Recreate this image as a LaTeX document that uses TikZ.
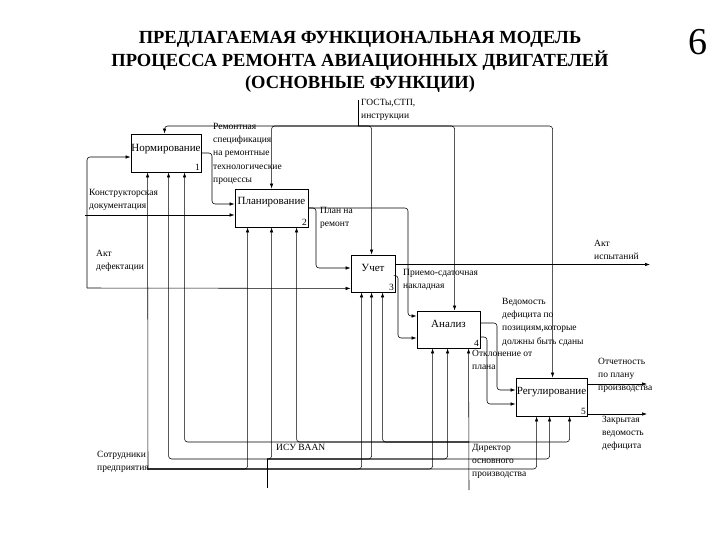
\documentclass[tikz,border=0pt]{standalone}
\usepackage{fontspec}
\setmainfont{Liberation Serif}
\usetikzlibrary{arrows.meta,calc}
\begin{document}
\begin{tikzpicture}[x=1pt,y=-1pt,
  box/.style={draw,line width=0.9pt,inner sep=0,fill=white},
  bname/.style={font=\fontsize{11}{12}\selectfont,inner sep=0},
  bnum/.style={font=\fontsize{9.5}{10}\selectfont,inner sep=1.5pt,anchor=south east},
  ln/.style={line width=0.55pt,rounded corners=3pt},
  arr/.style={ln,-{Latex[length=5pt,width=3.5pt]}},
  lbl/.style={font=\fontsize{9.5}{13.2}\selectfont,align=left,inner sep=0,anchor=north west},
  ttl/.style={font=\bfseries\fontsize{18.5}{22.5}\selectfont,align=center,inner sep=0}]
\useasboundingbox (0,0) rectangle (720,540);
% title
\node[ttl] (title) at (360,62) {ПРЕДЛАГАЕМАЯ ФУНКЦИОНАЛЬНАЯ МОДЕЛЬ\\ПРОЦЕССА РЕМОНТА АВИАЦИОННЫХ ДВИГАТЕЛЕЙ\\(ОСНОВНЫЕ ФУНКЦИИ)};
\node[font=\fontsize{38}{38}\selectfont,inner sep=0] (pg) at (698,42) {6};
% boxes
\node[box,minimum width=70,minimum height=38] (b1) at (166,153) {};
\node[box,minimum width=73,minimum height=38] (b2) at (271.5,208) {};
\node[box,minimum width=44,minimum height=37] (b3) at (373,273.5) {};
\node[box,minimum width=63,minimum height=37] (b4) at (448.5,329.5) {};
\node[box,minimum width=71,minimum height=38] (b5) at (551.5,397) {};
\node[bname] (n1) at ($(b1.center)+(0,-4)$) {Нормирование};
\node[bname] (n2) at ($(b2.center)+(0,-6)$) {Планирование};
\node[bname] (n3) at ($(b3.center)+(0,-6)$) {Учет};
\node[bname] (n4) at ($(b4.center)+(0,-6)$) {Анализ};
\node[bname] (n5) at ($(b5.center)+(0,-5)$) {Регулирование};
\node[bnum] (k1) at (b1.south east) {1};
\node[bnum] (k2) at (b2.south east) {2};
\node[bnum] (k3) at (b3.south east) {3};
\node[bnum] (k4) at (b4.south east) {4};
\node[bnum] (k5) at (b5.south east) {5};
% controls
\coordinate (g) at (358,100);
\coordinate (gj) at (358,126);
\draw[ln] (g) -- (gj);
\draw[arr] (gj) -| ($(b1.north west)+(34,0)$);
\draw[arr] (gj) -| ($(b2.north west)+(37,0)$);
\draw[arr] (gj) -| ($(b3.north west)+(21,0)$);
\draw[arr] (gj) -| ($(b4.north west)+(38,0)$);
\draw[arr] (gj) -| ($(b5.north west)+(37,0)$);
% inputs
\coordinate (ad) at (87,288);
\draw[arr] (ad) -- ($(b3.south west)+(0,-4)$);
\draw[arr] (ad) |- ($(b1.west)+(0,4)$);
\coordinate (kd) at (85,215);
\draw[arr] (kd) -- ($(b2.west)+(0,7)$);
% outputs
\draw[arr] (b1.east) -- (212,153) |- ($(b2.west)+(0,-4)$);
\draw[arr] (b2.east) -- (316,208) |- ($(b3.west)+(0,-5.5)$);
\draw[arr] (b2.east) -- (408,208) |- ($(b4.west)+(0,-13.5)$);
\coordinate (ai) at (650,264.5);
\draw[arr] ($(b3.east)+(0,-9)$) -- (ai);
\draw[arr] ($(b3.east)+(0,2)$) -- (398,275.5) |- ($(b4.west)+(0,8.5)$);
\draw[arr] ($(b4.east)+(0,-6.5)$) -- (497,323) |- ($(b5.west)+(0,-7)$);
\draw[arr] ($(b4.east)+(0,7.5)$) -- (487,337) |- ($(b5.west)+(0,7)$);
\coordinate (o1) at (647,384);
\coordinate (o2) at (647,414);
\draw[arr] ($(b5.east)+(0,-13)$) -- (o1);
\draw[arr] ($(b5.east)+(0,17)$) -- (o2);
% mechanisms: staff
\coordinate (st) at (148,469);
\draw[arr] (st) -- ($(b1.south west)+(17,0)$);
\draw[arr] (st) -| ($(b2.south west)+(13,0)$);
\draw[arr] (st) -| ($(b3.south west)+(11,0)$);
\draw[arr] (st) -| ($(b4.south west)+(16,0)$);
\draw[arr] (st) -| ($(b5.south west)+(21,0)$);
% ИСУ BAAN
\coordinate (is) at (267,488);
\coordinate (isj) at (267,459);
\draw[ln] (is) -- (isj);
\draw[arr] (isj) -| ($(b1.south west)+(38,0)$);
\draw[arr] (isj) -| ($(b2.south west)+(37,0)$);
\draw[arr] (isj) -| ($(b3.south west)+(21,0)$);
\draw[arr] (isj) -| ($(b4.south west)+(31,0)$);
\draw[arr] (isj) -| ($(b5.south west)+(34,0)$);
% Director
\coordinate (dr) at (469,490);
\coordinate (drj) at (469,442);
\draw[arr] (dr) -- ($(b4.south west)+(52,0)$);
\draw[arr] (drj) -| ($(b1.south west)+(54,0)$);
\draw[arr] (drj) -| ($(b2.south west)+(62,0)$);
\draw[arr] (drj) -| ($(b3.south west)+(32,0)$);
\draw[arr] (drj) -| ($(b5.south west)+(54,0)$);
% labels
\node[lbl] (l1) at (361,99) {ГОСТы,СТП,\\инструкции};
\node[lbl] (l2) at (213,123) {Ремонтная\\спецификация\\на ремонтные\\технологические\\процессы};
\node[lbl] (l3) at (89,189) {Конструкторская\\документация};
\node[lbl] (l4) at (96,250) {Акт\\дефектации};
\node[lbl] (l5) at (320,207) {План на\\ремонт};
\node[lbl] (l6) at (403,269) {Приемо-сдаточная\\накладная};
\node[lbl] (l7) at (594,240) {Акт\\испытаний};
\node[lbl] (l8) at (502,298) {Ведомость\\дефицита по\\позициям,которые\\должны быть сданы};
\node[lbl] (l9) at (472,350) {Отклонение от\\плана};
\node[lbl] (l10) at (598,358) {Отчетность\\по плану\\производства};
\node[lbl] (l11) at (602,416) {Закрытая\\ведомость\\дефицита};
\node[lbl] (l12) at (97,451) {Сотрудники\\предприятия};
\node[lbl] (l13) at (276,444) {ИСУ BAAN};
\node[lbl] (l14) at (472,444) {Директор\\основного\\производства};
\end{tikzpicture}
\end{document}
